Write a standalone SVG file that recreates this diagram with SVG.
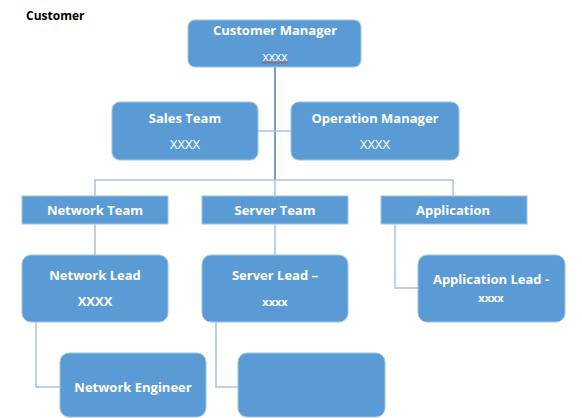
<svg xmlns="http://www.w3.org/2000/svg" width="582" height="418" viewBox="0 0 582 418">
  <style>
    .box { fill: #5B9BD5; stroke: #9DC3E6; stroke-width: 1; }
    .t { font-family: "Open Sans", "Noto Sans", "DejaVu Sans", sans-serif; fill: #FFFFFF; text-anchor: middle; }
    .b { font-weight: bold; font-size: 13px; }
    .n { font-weight: normal; font-size: 13px; }
    .s { font-weight: bold; font-size: 11px; }
    .link { fill: none; stroke: #A3C2E3; stroke-width: 1.5; }
    .trunk { fill: none; stroke: #4A7EB5; stroke-width: 1.5; }
  </style>

  <text x="26" y="20" font-family="'Open Sans', 'Noto Sans', sans-serif" font-weight="bold" font-size="12" fill="#000000">Customer</text>

  <g id="connectors">
    <line class="trunk" x1="275" y1="67" x2="275" y2="180"/>
    <line class="link" x1="258" y1="131" x2="291" y2="131"/>
    <polyline class="link" points="95,196 95,180 453,180 453,196"/>
    <line class="link" x1="275" y1="180" x2="275" y2="196"/>
    <line class="link" x1="95" y1="224" x2="95" y2="255"/>
    <line class="link" x1="275" y1="224" x2="275" y2="255"/>
    <polyline class="link" points="395,224 395,288 418,288"/>
    <polyline class="link" points="36,322 36,387 60,387"/>
    <polyline class="link" points="216,322 216,387 238,387"/>
  </g>

  <g id="customer-manager">
    <rect class="box" x="188" y="20" width="173" height="47" rx="7"/>
    <text class="t b" x="275" y="35">Customer Manager</text>
    <text class="t" x="275" y="61" font-size="12">xxxx</text>
    <!-- spell-check underline under the placeholder -->
    <polyline points="262,63.5 264,62 266,63.5 268,62 270,63.5 272,62 274,63.5 276,62 278,63.5 280,62 282,63.5 284,62 286,63.5 288,62" fill="none" stroke="#E0403A" stroke-width="1"/>
  </g>

  <g id="sales-team">
    <rect class="box" x="112" y="102" width="146" height="58" rx="8"/>
    <text class="t b" x="185" y="123">Sales Team</text>
    <text class="t n" x="185" y="149">XXXX</text>
  </g>

  <g id="operation-manager">
    <rect class="box" x="291" y="102" width="168" height="58" rx="8"/>
    <text class="t b" x="375" y="123">Operation Manager</text>
    <text class="t n" x="375" y="149">XXXX</text>
  </g>

  <g id="network-team">
    <rect class="box" x="22" y="196" width="146" height="28"/>
    <text class="t b" x="95" y="215">Network Team</text>
  </g>

  <g id="server-team">
    <rect class="box" x="202" y="196" width="146" height="28"/>
    <text class="t b" x="275" y="215">Server Team</text>
  </g>

  <g id="application">
    <rect class="box" x="381" y="196" width="146" height="28"/>
    <text class="t b" x="453" y="215">Application</text>
  </g>

  <g id="network-lead">
    <rect class="box" x="22" y="255" width="146" height="67" rx="9"/>
    <text class="t b" x="95" y="280">Network Lead</text>
    <text class="t b" x="95" y="306">XXXX</text>
  </g>

  <g id="server-lead">
    <rect class="box" x="202" y="255" width="146" height="67" rx="9"/>
    <text class="t b" x="275" y="280">Server Lead –</text>
    <text class="t s" x="275" y="306">xxxx</text>
  </g>

  <g id="application-lead">
    <rect class="box" x="418" y="255" width="147" height="67" rx="9"/>
    <text class="t b" x="491" y="284">Application Lead -</text>
    <text class="t s" x="491" y="302">xxxx</text>
  </g>

  <g id="network-engineer">
    <rect class="box" x="60" y="353" width="146" height="64" rx="9"/>
    <text class="t b" x="133" y="392">Network Engineer</text>
  </g>

  <g id="server-member">
    <rect class="box" x="238" y="353" width="147" height="64" rx="9"/>
  </g>
</svg>
